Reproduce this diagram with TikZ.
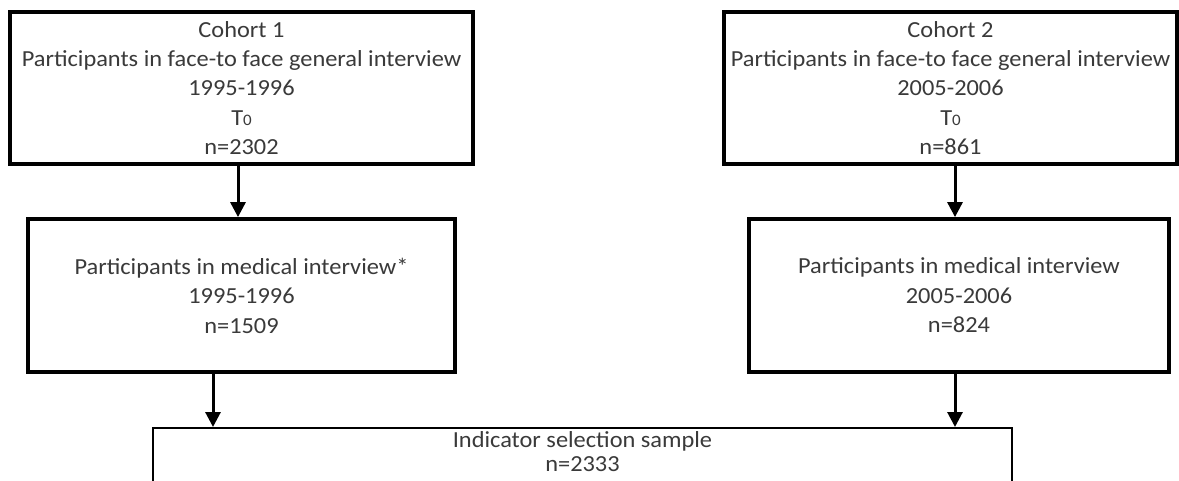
\documentclass[tikz,border=0pt]{standalone}
\usepackage{fontspec}
\setmainfont{Carlito}[FakeStretch=1.06]
\usetikzlibrary{arrows.meta}
\definecolor{txt}{HTML}{3A3A3A}
\begin{document}
\begin{tikzpicture}[x=1pt,y=-1pt,
  thickbox/.style={draw=black,line width=3.8pt,rectangle,inner sep=0pt,align=center,text=txt,
    font=\fontsize{23}{29.3}\selectfont},
  thinbox/.style={draw=black,line width=2pt,rectangle,inner sep=0pt},
  lbl/.style={align=center,text=txt,font=\fontsize{23}{24}\selectfont,inner sep=0pt},
  arr/.style={line width=3pt,-{Triangle[length=15pt,width=15pt]}}]
\useasboundingbox (0,0) rectangle (1179,481);
\clip (0,0) rectangle (1179,481);
\fill[white] (0,0) rectangle (1179,481);
\node[thickbox,minimum width=463pt,minimum height=152pt] (c1) at (241.5,88)
  {Cohort 1\\Participants in face-to face general interview\\1995-1996\\T{\fontsize{16}{16}\selectfont 0}\\n=2302};
\node[thickbox,minimum width=453pt,minimum height=152pt] (c2) at (950.5,88)
  {Cohort 2\\Participants in face-to face general interview\\2005-2006\\T{\fontsize{16}{16}\selectfont 0}\\n=861};
\node[thickbox,minimum width=427pt,minimum height=153pt,font=\fontsize{23}{29.5}\selectfont] (m1) at (241.5,295.5)
  {Participants in medical interview*\\1995-1996\\n=1509};
\node[thickbox,minimum width=420pt,minimum height=153pt,font=\fontsize{23}{29.5}\selectfont] (m2) at (959,295.5)
  {Participants in medical interview\\2005-2006\\n=824};
\node[thinbox,minimum width=859pt,minimum height=120pt,anchor=north] (sel) at (582.5,427) {};
\node[lbl,anchor=base] (selt) at (582.5,471.7) {Indicator selection sample\\n=2333};
\draw[arr] (238,0 |- c1.south) -- (238,0 |- m1.north);
\draw[arr] (955,0 |- c2.south) -- (955,0 |- m2.north);
\draw[arr] (213,0 |- m1.south) -- (213,0 |- sel.north);
\draw[arr] (955,0 |- m2.south) -- (955,0 |- sel.north);
\end{tikzpicture}
\end{document}
